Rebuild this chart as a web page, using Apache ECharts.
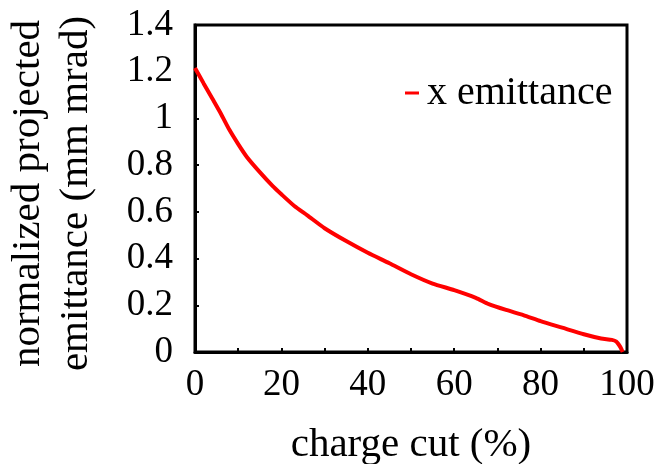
<!DOCTYPE html>
<html>
<head>
<meta charset="utf-8">
<script src="https://cdn.jsdelivr.net/npm/echarts@6/dist/echarts.min.js"></script>
<style>
  html, body { margin: 0; padding: 0; background: #fff; }
  #chart { width: 658px; height: 464px; }
</style>
</head>
<body>
<div id="chart"></div>
<script>
// charge cut (%) and the emittance
const chargeCut = [0, 2, 4, 6, 8, 10, 12, 15, 18, 20, 23, 26, 30, 35, 40, 45, 50, 55, 60, 65, 68, 72, 76, 80, 85, 90, 94, 96.5, 97.5, 98.5, 99];
const xEmittance = [1.216, 1.15, 1.085, 1.02, 0.95, 0.89, 0.835, 0.77, 0.71, 0.675, 0.625, 0.585, 0.53, 0.475, 0.425, 0.38, 0.333, 0.293, 0.265, 0.232, 0.205, 0.18, 0.158, 0.132, 0.104, 0.076, 0.058, 0.052, 0.045, 0.02, 0.0];
const seriesName = 'x emittance';

const chart = echarts.init(document.getElementById('chart'));
const font = 'Liberation Serif';

const option = {
  animation: false,
  backgroundColor: '#fff',
  grid: {
    left: 195,
    right: 31,
    top: 25,
    bottom: 112,
    containLabel: false,
    outerBoundsMode: 'none',
    show: true,
    borderColor: '#000',
    borderWidth: 3,
  },
  legend: {
    left: 400,
    top: 68,
    icon: 'rect',
    itemWidth: 14,
    itemHeight: 3,
    itemGap: 0,
    textStyle: {
      fontFamily: font,
      fontSize: 40,
      color: '#000',
      padding: [0, 0, 0, 3],
    },
    data: [seriesName],
  },
  xAxis: {
    type: 'value',
    min: 0,
    max: 100,
    interval: 20,
    name: 'charge cut (%)',
    nameLocation: 'middle',
    nameGap: 73,
    nameTextStyle: { fontFamily: font, fontSize: 41, color: '#000' },
    axisLine: { show: true, lineStyle: { color: '#000', width: 3 } },
    axisTick: { show: true, inside: true, length: 4, lineStyle: { color: '#000', width: 2 } },
    minorTick: { show: true, splitNumber: 2, length: 4, lineStyle: { color: '#000', width: 2 } },
    splitLine: { show: false },
    axisLabel: { fontFamily: font, fontSize: 37, color: '#000', margin: 15 },
  },
  yAxis: {
    type: 'value',
    min: 0,
    max: 1.4,
    interval: 0.2,
    name: 'normalized projected\nemittance (mm mrad)',
    nameLocation: 'middle',
    nameGap: 95,
    nameTextStyle: {
      fontFamily: font,
      fontSize: 41,
      color: '#000',
      lineHeight: 48,
      padding: [0, 10, 0, 0],
    },
    axisLine: { show: true, lineStyle: { color: '#000', width: 3 } },
    axisTick: { show: true, inside: true, length: 4, lineStyle: { color: '#000', width: 2 } },
    splitLine: { show: false },
    axisLabel: {
      fontFamily: font,
      fontSize: 37,
      color: '#000',
      margin: 22,
      formatter: (v) => String(Math.round(v * 10) / 10),
    },
  },
  series: [
    {
      name: seriesName,
      type: 'line',
      data: chargeCut.map((x, i) => [x, xEmittance[i]]),
      showSymbol: false,
      smooth: 0.2,
      itemStyle: { color: '#ff0000' },
      lineStyle: { color: '#ff0000', width: 4 },
    },
  ],
};
chart.setOption(option);
</script>
</body>
</html>
